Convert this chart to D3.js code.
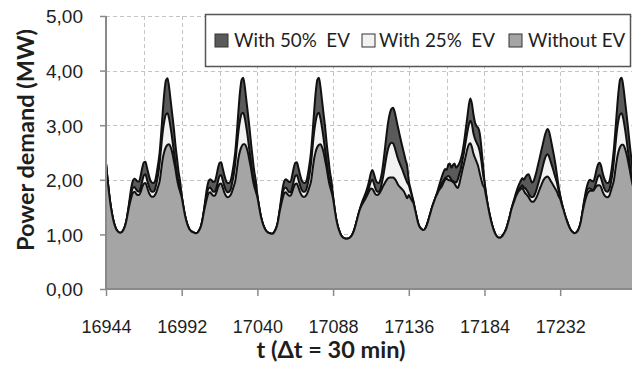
<!DOCTYPE html>
<html>
<head>
<meta charset="utf-8">
<script src="https://cdn.jsdelivr.net/npm/d3@7"></script>
<style>
  html, body { margin: 0; padding: 0; background: #fff; }
  svg { display: block; font-family: Lato, "Open Sans", sans-serif; }
</style>
</head>
<body>
<svg id="chart" width="632" height="371"></svg>
<script>
// Half-hourly power demand over one week (t = 16944 ... 17279, Δt = 30 min)
const tStart = 16944;
const tEnd = 17280;

// Demand with 50 % EV penetration (MW), one row of 12 values per 6 hours
const ev50 = [
  // day 1
  2.30,2.00,1.74,1.52,1.35,1.22,1.13,1.07,1.04,1.03,1.04,1.08,
  1.15,1.26,1.44,1.65,1.85,1.98,2.02,2.00,1.97,1.97,2.08,2.22,
  2.32,2.33,2.22,2.10,2.00,1.95,1.94,1.97,2.10,2.28,2.50,2.85,
  3.25,3.60,3.82,3.86,3.70,3.45,3.20,2.95,2.65,2.40,2.15,1.97,
  // day 2
  1.72,1.52,1.36,1.24,1.15,1.09,1.06,1.04,1.03,1.02,1.03,1.07,
  1.13,1.24,1.42,1.64,1.84,1.97,2.01,1.99,1.96,1.97,2.07,2.21,
  2.31,2.32,2.21,2.09,1.99,1.94,1.94,1.98,2.11,2.29,2.52,2.87,
  3.27,3.62,3.83,3.87,3.71,3.46,3.21,2.95,2.66,2.40,2.16,1.98,
  // day 3
  1.72,1.52,1.36,1.24,1.15,1.09,1.05,1.03,1.02,1.01,1.02,1.06,
  1.12,1.23,1.42,1.64,1.84,1.97,2.01,1.99,1.96,1.96,2.07,2.21,
  2.31,2.32,2.22,2.10,2.00,1.95,1.94,1.97,2.10,2.28,2.51,2.86,
  3.26,3.61,3.83,3.87,3.70,3.45,3.20,2.95,2.65,2.40,2.15,1.97,
  // day 4
  1.70,1.46,1.28,1.15,1.06,0.99,0.95,0.93,0.92,0.92,0.93,0.95,
  0.99,1.05,1.14,1.25,1.36,1.46,1.56,1.64,1.71,1.79,1.88,2.00,
  2.13,2.18,2.10,2.00,1.95,1.94,2.00,2.14,2.35,2.60,2.85,3.07,
  3.22,3.30,3.32,3.25,3.12,2.98,2.85,2.72,2.60,2.48,2.36,2.25,
  // day 5
  1.98,1.85,1.72,1.60,1.45,1.32,1.20,1.13,1.10,1.08,1.09,1.14,
  1.22,1.32,1.42,1.52,1.60,1.68,1.77,1.87,1.97,2.06,2.14,2.20,
  2.18,2.27,2.30,2.22,2.27,2.30,2.22,2.25,2.30,2.38,2.50,2.68,
  2.90,3.12,3.35,3.49,3.40,3.20,3.05,2.98,2.95,2.85,2.60,2.30,
  // day 6
  1.97,1.75,1.55,1.40,1.27,1.16,1.07,1.00,0.96,0.94,0.94,0.96,
  1.00,1.05,1.12,1.22,1.33,1.45,1.56,1.66,1.76,1.85,1.92,1.98,
  2.03,2.00,2.05,2.09,2.10,2.03,1.95,1.97,2.05,2.15,2.28,2.40,
  2.53,2.65,2.78,2.88,2.93,2.88,2.75,2.60,2.45,2.28,2.08,1.88,
  // day 7
  1.72,1.58,1.46,1.36,1.27,1.19,1.12,1.07,1.04,1.02,1.03,1.06,
  1.12,1.22,1.38,1.58,1.75,1.88,1.97,2.00,1.98,1.97,2.05,2.18,
  2.28,2.31,2.25,2.12,2.02,1.96,1.94,1.96,2.08,2.28,2.55,2.90,
  3.28,3.62,3.84,3.87,3.72,3.48,3.22,2.96,2.68,2.42,2.18,1.98
];

// Demand with 25 % EV penetration (MW)
const ev25 = [
  // day 1
  2.30,2.00,1.74,1.52,1.35,1.22,1.13,1.07,1.04,1.03,1.04,1.08,
  1.15,1.26,1.43,1.60,1.75,1.85,1.87,1.83,1.79,1.78,1.86,1.98,
  2.08,2.10,2.00,1.90,1.82,1.78,1.78,1.82,1.93,2.08,2.30,2.60,
  2.88,3.08,3.20,3.22,3.12,2.95,2.75,2.52,2.30,2.10,1.95,1.85,
  // day 2
  1.70,1.52,1.36,1.24,1.15,1.09,1.06,1.04,1.03,1.02,1.03,1.07,
  1.13,1.24,1.41,1.59,1.74,1.84,1.86,1.82,1.78,1.78,1.85,1.97,
  2.07,2.09,1.99,1.89,1.81,1.77,1.78,1.82,1.94,2.09,2.31,2.61,
  2.89,3.09,3.21,3.23,3.13,2.96,2.76,2.52,2.30,2.10,1.95,1.85,
  // day 3
  1.70,1.52,1.36,1.24,1.15,1.09,1.05,1.03,1.02,1.01,1.02,1.06,
  1.12,1.23,1.41,1.59,1.74,1.84,1.86,1.82,1.78,1.77,1.85,1.97,
  2.07,2.09,2.00,1.90,1.82,1.78,1.78,1.82,1.93,2.08,2.30,2.60,
  2.88,3.08,3.20,3.23,3.12,2.95,2.75,2.52,2.30,2.10,1.95,1.85,
  // day 4
  1.68,1.46,1.28,1.15,1.06,0.99,0.95,0.93,0.92,0.92,0.93,0.95,
  0.99,1.05,1.14,1.25,1.36,1.46,1.54,1.60,1.66,1.72,1.78,1.88,
  1.97,2.00,1.92,1.83,1.78,1.78,1.83,1.95,2.10,2.28,2.45,2.58,
  2.65,2.68,2.67,2.60,2.50,2.40,2.32,2.25,2.18,2.10,2.02,1.95,
  // day 5
  1.90,1.80,1.70,1.59,1.45,1.32,1.20,1.13,1.10,1.08,1.09,1.14,
  1.22,1.32,1.42,1.52,1.60,1.68,1.75,1.82,1.88,1.94,1.98,2.03,
  2.05,2.07,2.05,2.00,1.98,1.96,1.95,2.00,2.10,2.20,2.35,2.50,
  2.68,2.85,3.00,3.08,3.02,2.85,2.75,2.68,2.62,2.52,2.35,2.12,
  // day 6
  1.95,1.74,1.55,1.40,1.27,1.16,1.07,1.00,0.96,0.94,0.94,0.96,
  1.00,1.05,1.12,1.22,1.33,1.45,1.55,1.64,1.72,1.79,1.84,1.87,
  1.90,1.86,1.84,1.80,1.75,1.70,1.68,1.69,1.74,1.82,1.92,2.02,
  2.13,2.25,2.36,2.44,2.47,2.42,2.33,2.24,2.14,2.04,1.94,1.80,
  // day 7
  1.70,1.57,1.46,1.36,1.27,1.19,1.12,1.07,1.04,1.02,1.03,1.06,
  1.12,1.22,1.38,1.56,1.70,1.80,1.84,1.84,1.82,1.80,1.87,1.97,
  2.06,2.09,2.02,1.92,1.84,1.79,1.78,1.81,1.92,2.08,2.32,2.62,
  2.90,3.10,3.20,3.22,3.12,2.95,2.75,2.52,2.30,2.10,1.95,1.85
];

// Demand without EV (MW)
const noEv = [
  // day 1
  2.30,2.00,1.74,1.52,1.35,1.22,1.13,1.07,1.04,1.03,1.04,1.08,
  1.15,1.26,1.41,1.55,1.67,1.76,1.78,1.75,1.72,1.72,1.78,1.87,
  1.93,1.94,1.87,1.78,1.72,1.69,1.69,1.72,1.78,1.87,1.97,2.18,
  2.39,2.52,2.60,2.64,2.65,2.60,2.50,2.35,2.20,2.02,1.88,1.78,
  // day 2
  1.68,1.52,1.36,1.24,1.15,1.09,1.06,1.04,1.03,1.02,1.03,1.07,
  1.13,1.24,1.40,1.54,1.66,1.75,1.77,1.74,1.71,1.71,1.77,1.86,
  1.92,1.93,1.86,1.77,1.71,1.68,1.69,1.72,1.79,1.88,1.98,2.19,
  2.40,2.53,2.61,2.65,2.65,2.60,2.50,2.35,2.20,2.02,1.88,1.78,
  // day 3
  1.68,1.52,1.36,1.24,1.15,1.09,1.05,1.03,1.02,1.01,1.02,1.06,
  1.12,1.23,1.40,1.54,1.66,1.75,1.77,1.74,1.71,1.71,1.77,1.86,
  1.92,1.93,1.86,1.78,1.72,1.69,1.69,1.72,1.78,1.87,1.97,2.18,
  2.39,2.52,2.60,2.64,2.65,2.60,2.50,2.35,2.20,2.02,1.88,1.78,
  // day 4
  1.65,1.46,1.28,1.15,1.06,0.99,0.95,0.93,0.92,0.92,0.93,0.95,
  0.99,1.05,1.14,1.25,1.36,1.46,1.53,1.58,1.63,1.68,1.74,1.80,
  1.84,1.83,1.78,1.73,1.72,1.74,1.78,1.84,1.90,1.95,2.00,2.03,
  2.04,2.04,2.04,2.02,1.98,1.92,1.88,1.85,1.82,1.78,1.72,1.66,
  // day 5
  1.72,1.67,1.62,1.57,1.45,1.32,1.20,1.13,1.10,1.08,1.09,1.14,
  1.22,1.32,1.42,1.52,1.60,1.68,1.74,1.80,1.84,1.88,1.95,2.00,
  2.02,2.00,1.99,1.98,1.96,1.93,1.88,1.85,1.92,2.05,2.18,2.30,
  2.42,2.55,2.64,2.67,2.60,2.48,2.40,2.33,2.25,2.12,2.00,1.90,
  // day 6
  1.85,1.70,1.55,1.40,1.27,1.16,1.07,1.00,0.96,0.94,0.94,0.96,
  1.00,1.05,1.12,1.22,1.33,1.45,1.54,1.62,1.70,1.76,1.80,1.83,
  1.85,1.80,1.75,1.72,1.68,1.63,1.60,1.60,1.63,1.68,1.75,1.83,
  1.90,1.97,2.02,2.05,2.06,2.03,1.98,1.93,1.88,1.83,1.78,1.70,
  // day 7
  1.65,1.55,1.46,1.36,1.27,1.19,1.12,1.07,1.04,1.02,1.03,1.06,
  1.12,1.22,1.38,1.52,1.64,1.73,1.78,1.80,1.80,1.80,1.84,1.88,
  1.90,1.90,1.86,1.78,1.72,1.69,1.68,1.70,1.78,1.88,1.98,2.18,
  2.38,2.52,2.60,2.64,2.64,2.58,2.48,2.35,2.20,2.04,1.90,1.80
];

const xTickValues = [16944, 16992, 17040, 17088, 17136, 17184, 17232];
const yTickValues = [0, 1, 2, 3, 4, 5];
const legendLabels = ["With 50%  EV", "With 25%  EV", "Without EV"];
const seriesColors = ["#5a5a5a", "#f2f2f2", "#a5a5a5"];

const t = d3.range(tStart, tStart + ev50.length);

const svg = d3.select("#chart");
const plot = { left: 106, right: 632, top: 16, bottom: 289 };

const x = d3.scaleLinear()
  .domain([tStart, tEnd])
  .range([plot.left, plot.left + 336 * 1.577]);
const y = d3.scaleLinear().domain([0, 5]).range([plot.bottom, plot.top]);

// clip region for the plotted series
svg.append("defs").append("clipPath").attr("id", "plotClip")
  .append("rect")
  .attr("x", plot.left).attr("y", plot.top - 2)
  .attr("width", plot.right - plot.left).attr("height", plot.bottom - plot.top + 2);

// dashed grid
const grid = svg.append("g").attr("stroke", "#c4c4c4").attr("stroke-width", 1)
  .attr("stroke-dasharray", "4,3");
grid.selectAll("line.h").data(yTickValues.filter(v => v > 0)).join("line")
  .attr("class", "h")
  .attr("x1", plot.left).attr("x2", plot.right)
  .attr("y1", d => Math.round(y(d)) + 0.5).attr("y2", d => Math.round(y(d)) + 0.5);
grid.selectAll("line.v").data(d3.range(tStart + 24, tEnd, 24)).join("line")
  .attr("class", "v")
  .attr("x1", d => Math.round(x(d)) + 0.5).attr("x2", d => Math.round(x(d)) + 0.5)
  .attr("y1", plot.top).attr("y2", plot.bottom);

// overlapping area series, drawn from the largest to the smallest
const area = d3.area()
  .x((d, i) => x(t[i]))
  .y0(y(0))
  .y1(d => y(d))
  .curve(d3.curveMonotoneX);

const series = [ev50, ev25, noEv];
const areas = svg.append("g").attr("clip-path", "url(#plotClip)");
series.forEach((s, k) => {
  areas.append("path")
    .datum(s)
    .attr("d", area)
    .attr("fill", seriesColors[k])
    .attr("stroke", "#111")
    .attr("stroke-width", 2)
    .attr("stroke-linejoin", "round");
});

// axes
const yAxis = d3.axisLeft(y).tickValues(yTickValues).tickSize(6).tickPadding(6)
  .tickFormat(d => d3.format(".2f")(d).replace(".", ","));
const gy = svg.append("g").attr("transform", `translate(${plot.left},0)`).call(yAxis);
gy.select(".domain").attr("stroke", "#8a8a8a").attr("stroke-width", 2)
  .attr("d", `M0,${plot.top}V${plot.bottom}`);
gy.selectAll(".tick line").attr("stroke", "#8a8a8a").attr("stroke-width", 1.5);
gy.selectAll(".tick text").attr("font-size", 19).attr("fill", "#1e1e1e")
  .attr("x", -23).attr("dy", "0.36em");

const xAxis = d3.axisBottom(x).tickValues(xTickValues).tickSize(7).tickPadding(24)
  .tickFormat(d3.format("d"));
const gx = svg.append("g").attr("transform", `translate(0,${plot.bottom})`).call(xAxis);
gx.select(".domain").attr("stroke", "#8a8a8a").attr("stroke-width", 2)
  .attr("d", `M${plot.left},0H${plot.right}`);
gx.selectAll(".tick line").attr("stroke", "#8a8a8a").attr("stroke-width", 1.5);
gx.selectAll(".tick text").attr("font-size", 18).attr("fill", "#1e1e1e");

// axis titles
svg.append("text")
  .attr("transform", "translate(34,140) rotate(-90)")
  .attr("text-anchor", "middle")
  .attr("font-size", 23.5).attr("font-weight", "bold").attr("fill", "#1e1e1e")
  .text("Power demand (MW)");
svg.append("text")
  .attr("x", 331).attr("y", 358)
  .attr("text-anchor", "middle")
  .attr("font-size", 23.5).attr("font-weight", "bold").attr("fill", "#1e1e1e")
  .text("t (Δt = 30 min)");

// legend
const legend = svg.append("g");
legend.append("rect")
  .attr("x", 205.5).attr("y", 14.5).attr("width", 425).attr("height", 52)
  .attr("fill", "#fff").attr("stroke", "#555").attr("stroke-width", 1.5);
const swatchX = [215, 362, 509];
const textX = [234, 379, 528];
legendLabels.forEach((lab, k) => {
  legend.append("rect")
    .attr("x", swatchX[k]).attr("y", 34).attr("width", 13).attr("height", 13)
    .attr("fill", seriesColors[k]).attr("stroke", "#333").attr("stroke-width", 1);
  legend.append("text")
    .attr("x", textX[k]).attr("y", 46.5)
    .attr("font-size", 18.8).attr("fill", "#1e1e1e")
    .style("white-space", "pre")
    .text(lab);
});
</script>
</body>
</html>
